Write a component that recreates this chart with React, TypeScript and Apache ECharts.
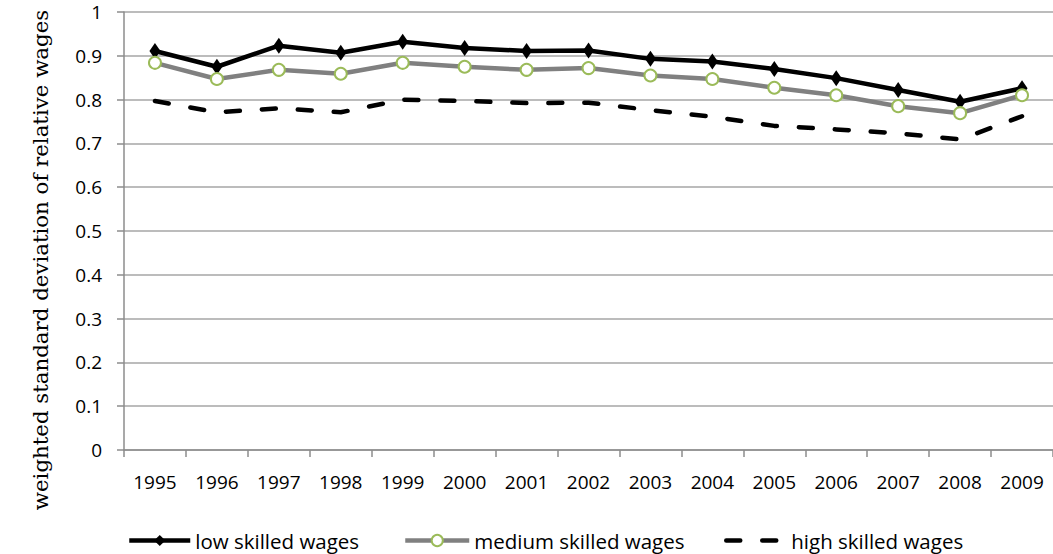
import React, { useEffect, useRef } from "react";
import * as echarts from "echarts";

const years = ["1995","1996","1997","1998","1999","2000","2001","2002","2003","2004","2005","2006","2007","2008","2009"];
const lowSkilled = [0.911,0.875,0.923,0.907,0.932,0.918,0.911,0.912,0.893,0.887,0.870,0.849,0.822,0.795,0.826];
const mediumSkilled = [0.884,0.847,0.868,0.859,0.884,0.875,0.868,0.872,0.855,0.847,0.827,0.810,0.785,0.769,0.810];
const highSkilled = [0.797,0.771,0.780,0.771,0.800,0.797,0.792,0.793,0.776,0.761,0.740,0.732,0.723,0.709,0.762];
const yTitle = "weighted standard deviation of relative wages";

const SANS = "'Open Sans', 'Noto Sans', sans-serif";

export default function App() {
  const ref = useRef<HTMLDivElement>(null);
  useEffect(() => {
    document.body.style.margin = "0";
    const chart = echarts.init(ref.current!, null, { renderer: "svg" });
    const legendText = { fontFamily: SANS, fontSize: 20.5, color: "#000" };
    const legendCommon = {
      top: 530,
      padding: 0,
      itemHeight: 14,
      itemGap: 0,
      textStyle: legendText,
      lineStyle: { width: 4.5 },
    };
    chart.setOption({
      animation: false,
      grid: { left: 124, top: 12, width: 933, height: 438, containLabel: false },
      graphic: [
        {
          type: "text",
          x: 40,
          y: 260,
          rotation: Math.PI / 2,
          style: {
            text: yTitle,
            fontFamily: "'DejaVu Serif', serif",
            fontSize: 21.3,
            fill: "#000",
            textAlign: "center",
            textVerticalAlign: "middle",
          },
        },
      ],
      legend: [
        { ...legendCommon, data: ["low skilled wages"], left: 127, itemWidth: 61 },
        { ...legendCommon, data: ["medium skilled wages"], left: 403, itemWidth: 64 },
        {
          ...legendCommon,
          data: [{ name: "high skilled wages", itemStyle: { opacity: 0 } }],
          left: 724,
          itemWidth: 60,
        },
      ],
      xAxis: {
        type: "category",
        data: years,
        boundaryGap: true,
        axisLine: { lineStyle: { color: "#8c8c8c", width: 1.5 } },
        axisTick: { show: true, length: 7, lineStyle: { color: "#8c8c8c", width: 1.5 } },
        axisLabel: { fontFamily: SANS, fontSize: 19, color: "#000", margin: 22 },
      },
      yAxis: {
        type: "value",
        min: 0,
        max: 1,
        interval: 0.1,
        axisLine: { show: true, lineStyle: { color: "#8c8c8c", width: 1.5 } },
        axisTick: { show: true, length: 7, lineStyle: { color: "#8c8c8c", width: 1.5 } },
        splitLine: { lineStyle: { color: "#a6a6a6", width: 1.5 } },
        axisLabel: { fontFamily: SANS, fontSize: 19, color: "#000", margin: 22 },
      },
      series: [
        {
          name: "low skilled wages",
          type: "line",
          data: lowSkilled,
          symbol: "diamond",
          symbolSize: [11, 16],
          showAllSymbol: true,
          lineStyle: { color: "#000", width: 4.5 },
          itemStyle: { color: "#000" },
          z: 3,
        },
        {
          name: "medium skilled wages",
          type: "line",
          data: mediumSkilled,
          symbol: "circle",
          symbolSize: 12,
          showAllSymbol: true,
          lineStyle: { color: "#808080", width: 4.5 },
          itemStyle: { color: "#fff", borderColor: "#9bbb59", borderWidth: 2 },
          z: 4,
        },
        {
          name: "high skilled wages",
          type: "line",
          data: highSkilled,
          symbol: "none",
          lineStyle: { color: "#000", width: 4.5, type: [14, 22], cap: "round" },
          itemStyle: { color: "#000" },
          z: 2,
        },
      ],
    });
    return () => chart.dispose();
  }, []);
  return <div ref={ref} style={{ width: 1053, height: 554 }} />;
}
